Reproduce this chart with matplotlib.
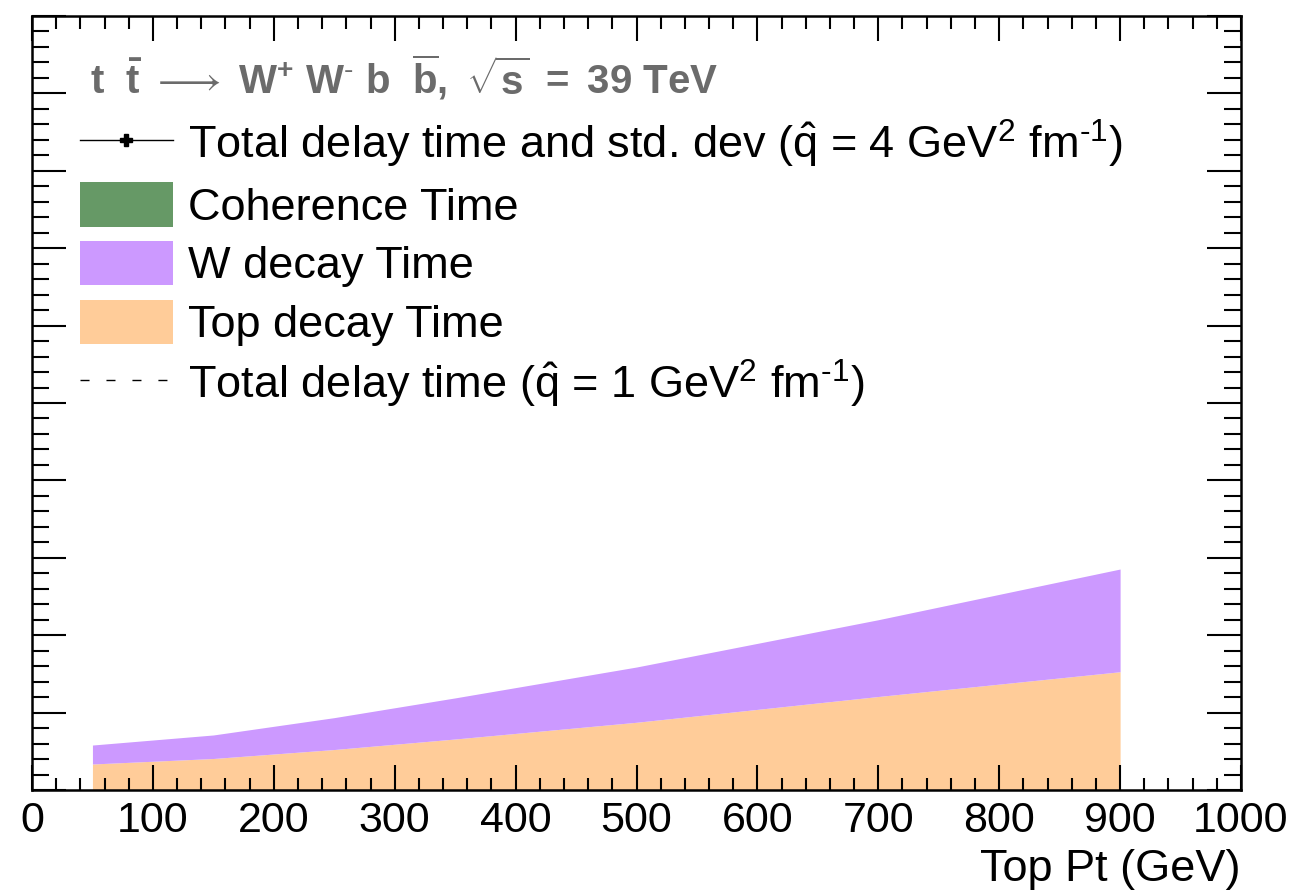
import numpy as np
import matplotlib
matplotlib.use("Agg")
import matplotlib.pyplot as plt
from matplotlib.patches import Patch, Rectangle
from matplotlib.lines import Line2D
from matplotlib.ticker import MultipleLocator, NullFormatter

plt.rcParams['font.family'] = ['Liberation Sans', 'DejaVu Sans']
plt.rcParams['mathtext.fontset'] = 'custom'
plt.rcParams['mathtext.rm'] = 'Liberation Sans'
plt.rcParams['mathtext.it'] = 'Liberation Sans:italic'
plt.rcParams['mathtext.bf'] = 'Liberation Sans:bold'
plt.rcParams['mathtext.default'] = 'regular'

# top Pt points (GeV)
pt = [50, 150, 250, 350, 500, 700, 900]
# stacked contributions (arbitrary units)
top_decay = [0.336, 0.407, 0.523, 0.659, 0.875, 1.208, 1.528]
w_decay = [0.245, 0.304, 0.412, 0.531, 0.714, 0.992, 1.327]

x_ticks = [0, 100, 200, 300, 400, 500, 600, 700, 800, 900, 1000]
y_ticks = [0, 1, 2, 3, 4, 5, 6, 7, 8, 9, 10]

c_coh = '#669966'
c_w = '#cc99ff'
c_top = '#ffcc99'

W, H = 1298, 892
fig = plt.figure(figsize=(W / 100, H / 100), dpi=100)
ax = fig.add_axes([32 / W, 1 - 790 / H, (1241 - 32) / W, (790 - 16) / H])

pt = np.array(pt)
top_decay = np.array(top_decay)
w_decay = np.array(w_decay)
ax.fill_between(pt, 0, top_decay, color=c_top, lw=0)
ax.fill_between(pt, top_decay, top_decay + w_decay, color=c_w, lw=0)

ax.set_xlim(0, 1000)
ax.set_ylim(0, 10)
ax.set_xticks(x_ticks)
ax.set_yticks(y_ticks)
ax.yaxis.set_major_formatter(NullFormatter())  # y labels are off the image
ax.xaxis.set_minor_locator(MultipleLocator(20))
ax.yaxis.set_minor_locator(MultipleLocator(0.2))
ax.tick_params(which='both', direction='in', top=True, right=True, width=1.5)
ax.tick_params(axis='x', which='major', length=18, labelsize=31, pad=8)
ax.tick_params(axis='x', which='minor', length=9)
ax.tick_params(axis='y', which='major', length=24.5)
ax.tick_params(axis='y', which='minor', length=12.2)
for s in ax.spines.values():
    s.set_linewidth(1.8)

ax.set_xlabel('Top Pt (GeV)', fontsize=32.5, loc='right', labelpad=6)

fig.text(90 / W, 1 - 93 / H,
         r'$\mathbf{t\ \ \bar{t}\ }\longrightarrow\mathbf{\ W^{+}\ W^{\text{-}}\ b\ \ \overline{b},\ \sqrt{s}\ =\ 39\ TeV}$',
         fontsize=29, color='#6b6b6b', va='baseline', ha='left')

handles = [
    Line2D([], [], color='k', lw=1, marker='P', ms=9, mec='k'),
    Patch(facecolor=c_coh, edgecolor='none'),
    Patch(facecolor=c_w, edgecolor='none'),
    Patch(facecolor=c_top, edgecolor='none'),
    Line2D([], [], color='k', lw=1, ls=(0, (6.5, 12.2))),
]
labels = [
    r'Total delay time and std. dev ($\hat{q}$ = 4 GeV$^{2}$ fm$^{\text{-}1}$)',
    'Coherence Time',
    'W decay Time',
    'Top decay Time',
    r'Total delay time ($\hat{q}$ = 1 GeV$^{2}$ fm$^{\text{-}1}$)',
]
fig.legend(handles, labels, loc='upper left', bbox_to_anchor=(80 / W, 1 - 118 / H),
           frameon=False, fontsize=32.5, borderpad=0, borderaxespad=0,
           handlelength=2.06, handleheight=1.13, handletextpad=0.34, labelspacing=0.27)

# left edge of the original image is cut off
fig.patches.append(Rectangle((0, 0), 21 / W, 1, transform=fig.transFigure,
                             facecolor='white', edgecolor='none', zorder=10))

fig.savefig('out.png', dpi=100)
